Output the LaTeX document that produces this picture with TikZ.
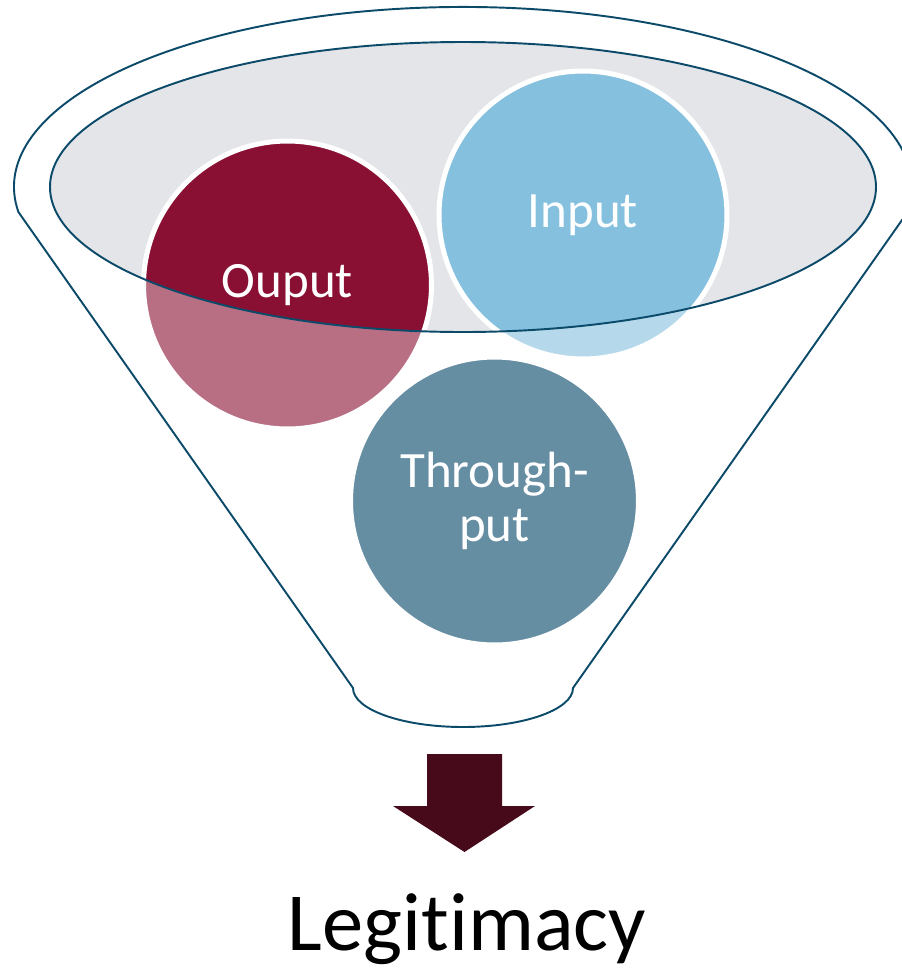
\documentclass[tikz,border=0pt]{standalone}
\usepackage{fontspec}
\setmainfont[RawFeature=-liga]{Carlito}
\usepackage{xcolor}
\usetikzlibrary{calc,positioning}

\definecolor{funnelblue}{RGB}{12,74,106}
\definecolor{rimgray}{RGB}{228,229,233}
\definecolor{outputred}{RGB}{138,16,51}
\definecolor{inputblue}{RGB}{133,193,222}
\definecolor{throughblue}{RGB}{102,142,163}
\definecolor{arrowred}{RGB}{71,10,27}

\begin{document}
\begin{tikzpicture}[x=0.02cm, y=0.02cm,
    bubble/.style={circle, draw=white, line width=0.1cm, minimum size=5.76cm, inner sep=0pt,
        text=white, align=center, font=\fontsize{29}{31}\selectfont},
    funnelline/.style={draw=funnelblue, line width=1.1pt}]

\useasboundingbox (0,0) rectangle (902,-971);

% Top opening of the funnel
\fill[rimgray] (463,-187) ellipse (413 and 145);

% Circles inside the funnel
\node[bubble, fill=outputred] (ouput) at (287.5,-285) {Ouput};
\node[bubble, fill=inputblue] (input) at (583,-215) {Input};

% Funnel body, lightening what lies behind it
\draw[funnelline, fill=white, fill opacity=0.4, even odd rule]
    (353,-688) -- (18.4,-212) arc (188:-8:449 and 180) -- (573,-688)
    arc (0:-180:110 and 39) -- cycle
    (463,-187) ellipse (413 and 145);

% Circle in front
\node[bubble, fill=throughblue] (through) at (494.5,-501) {Through-\\put};

% Down arrow
\fill[arrowred] (427,-754) -- (502,-754) -- (502,-806) -- (535,-806) -- (464.5,-852)
    -- (393,-806) -- (427,-806) -- cycle;

% Result
\node[anchor=base, font=\fontsize{47}{50}\selectfont] (legit) at (467,-950) {Legitimacy};

\end{tikzpicture}
\end{document}
